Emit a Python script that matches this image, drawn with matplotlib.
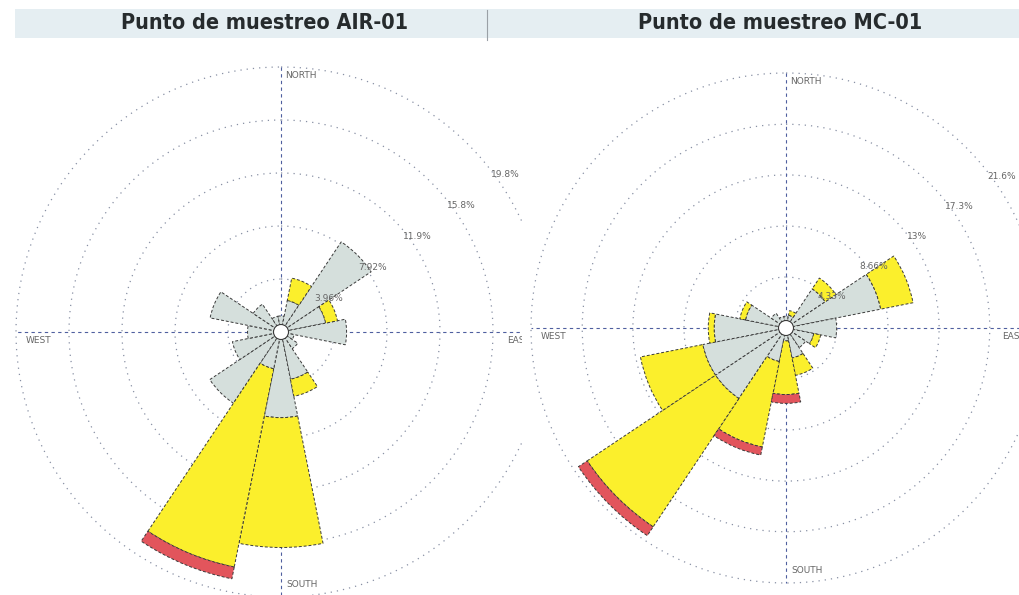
import numpy as np
import matplotlib
matplotlib.use("Agg")
import matplotlib.pyplot as plt
from matplotlib.patches import Rectangle, Circle

# ---------------- data ----------------
directions = ["N", "NNE", "NE", "ENE", "E", "ESE", "SE", "SSE",
              "S", "SSW", "SW", "WSW", "W", "WNW", "NW", "NNW"]
bearings = [0, 22.5, 45, 67.5, 90, 112.5, 135, 157.5,
            180, 202.5, 225, 247.5, 270, 292.5, 315, 337.5]

# Punto de muestreo AIR-01 (percent frequency per speed class)
air_low = [1.2, 2.4, 8.1, 3.4, 4.9, 1.0, 1.5, 3.6, 6.4, 2.8, 6.4, 3.7, 2.5, 5.4, 2.5, 1.2]
air_mid = [0.0, 1.7, 0.0, 0.9, 0.0, 0.0, 0.0, 1.3, 9.7, 15.1, 0.0, 0.0, 0.0, 0.0, 0.0, 0.0]
air_high = [0.0, 0.0, 0.0, 0.0, 0.0, 0.0, 0.0, 0.0, 0.0, 0.9, 0.0, 0.0, 0.0, 0.0, 0.0, 0.0]
air_rings = [3.96, 7.92, 11.88, 15.84, 19.8]
air_ring_labels = ["3.96%", "7.92%", "11.9%", "15.8%", "19.8%"]

# Punto de muestreo MC-01
mc_low = [1.0, 1.1, 4.0, 8.2, 4.3, 2.4, 2.0, 2.6, 1.1, 2.9, 7.2, 7.2, 6.1, 3.5, 1.5, 1.0]
mc_mid = [0.0, 0.4, 1.1, 2.8, 0.0, 0.6, 0.0, 1.5, 4.55, 7.4, 13.1, 5.4, 0.5, 0.5, 0.0, 0.0]
mc_high = [0.0, 0.0, 0.0, 0.0, 0.0, 0.0, 0.0, 0.0, 0.75, 0.7, 0.9, 0.0, 0.0, 0.0, 0.0, 0.0]
mc_rings = [4.33, 8.66, 13.0, 17.3, 21.65]
mc_ring_labels = ["4.33%", "8.66%", "13%", "17.3%", "21.6%"]

titles = ["Punto de muestreo AIR-01", "Punto de muestreo MC-01"]

# ---------------- style ----------------
C_LOW = "#d5dfdc"
C_MID = "#fbef2c"
C_HIGH = "#e2555c"
EDGE = "#3a3a3a"
RING = "#8890a4"
AXLINE = "#4f5f9f"
TXT = "#666666"

W, H = 1020, 595
fig = plt.figure(figsize=(W / 100, H / 100), dpi=100)
fig.patch.set_facecolor("white")


def make_rose(cx, cy, rad_px, low, mid, high, rings, ring_labels, zorder):
    ax = fig.add_axes([(cx - rad_px) / W, 1 - (cy + rad_px) / H,
                       2 * rad_px / W, 2 * rad_px / H], projection="polar")
    ax.set_zorder(zorder)
    ax.set_theta_zero_location("N")
    ax.set_theta_direction(-1)
    rmax = rings[-1]
    ax.set_ylim(0, rmax)
    ax.set_xticks([])
    ax.set_yticks([])
    ax.grid(False)
    ax.spines["polar"].set_visible(False)
    ax.patch.set_alpha(0)

    th = np.deg2rad(bearings)
    width = np.deg2rad(22.5)
    low = np.array(low); mid = np.array(mid); high = np.array(high)
    kw = dict(width=width, edgecolor=EDGE, linewidth=0.7, linestyle=(0, (3, 2)), zorder=3)
    ax.bar(th, low, bottom=0, color=C_LOW, **kw)
    m = mid > 0
    ax.bar(th[m], mid[m], bottom=low[m], color=C_MID, **kw)
    h = high > 0
    ax.bar(th[h], high[h], bottom=(low + mid)[h], color=C_HIGH, **kw)

    # rings
    tt = np.linspace(0, 2 * np.pi, 400)
    for r in rings:
        ax.plot(tt, np.full_like(tt, r), color=RING, lw=0.9, ls=(0, (1, 4)),
                zorder=1, clip_on=False)
    # axis lines
    for a, r0, r1 in [(0, rmax, 0), (np.pi, 0, rmax), (np.pi / 2, rmax, 0), (1.5 * np.pi, 0, rmax)]:
        ax.plot([a, a], [r0, r1], color=AXLINE, lw=0.8, ls=(0, (3, 3)), zorder=2, clip_on=False)

    # ring labels
    for r, lab in zip(rings, ring_labels):
        ax.text(np.deg2rad(55), r * 1.02 + 0.3, lab, fontsize=6.5, color=TXT,
                ha="center", va="center", zorder=5, clip_on=False)

    # compass labels
    lk = dict(fontsize=6.5, color=TXT, zorder=5, annotation_clip=False)
    ax.annotate("NORTH", (0, rmax), xytext=(3, -3), textcoords="offset points",
                ha="left", va="top", **lk)
    ax.annotate("SOUTH", (np.pi, rmax), xytext=(4, 6), textcoords="offset points",
                ha="left", va="bottom", **lk)
    ax.annotate("WEST", (1.5 * np.pi, rmax), xytext=(7, -3), textcoords="offset points",
                ha="left", va="top", **lk)
    ax.annotate("EAST", (np.pi / 2, rmax), xytext=(-28, -3), textcoords="offset points",
                ha="left", va="top", **lk)

    # calm circle
    ax.add_patch(Circle((0.5, 0.5), 7.5 / (2 * rad_px), transform=ax.transAxes,
                        facecolor="white", edgecolor=EDGE, lw=0.8, zorder=6))
    return ax


ax1 = make_rose(281, 332, 265, air_low, air_mid, air_high, air_rings, air_ring_labels, 0)
# cover the spill of the left rose into the right panel
fig.add_artist(Rectangle((522 / W, 0), 1 - 522 / W, 1, transform=fig.transFigure,
                         facecolor="white", edgecolor="none", zorder=1))
ax2 = make_rose(786, 328, 255, mc_low, mc_mid, mc_high, mc_rings, mc_ring_labels, 2)

# title band
fig.add_artist(Rectangle((15 / W, 1 - 38 / H), 1 - 15 / W, 29 / H, transform=fig.transFigure,
                         facecolor="#e5eef2", edgecolor="none", zorder=3))
fig.add_artist(plt.Line2D([487 / W, 487 / W], [1 - 40 / H, 1 - 10 / H], transform=fig.transFigure,
                          color="#9aa0a6", lw=0.8, zorder=4))
tk = dict(fontsize=15.5, color="#262b2d", ha="center", va="center", fontweight="bold",
          fontstretch="condensed", family=["DejaVu Sans"], zorder=5)
fig.text(265 / W, 1 - 23 / H, titles[0], **tk)
fig.text(780 / W, 1 - 23 / H, titles[1], **tk)

fig.savefig("out.png", dpi=100, facecolor="white")
